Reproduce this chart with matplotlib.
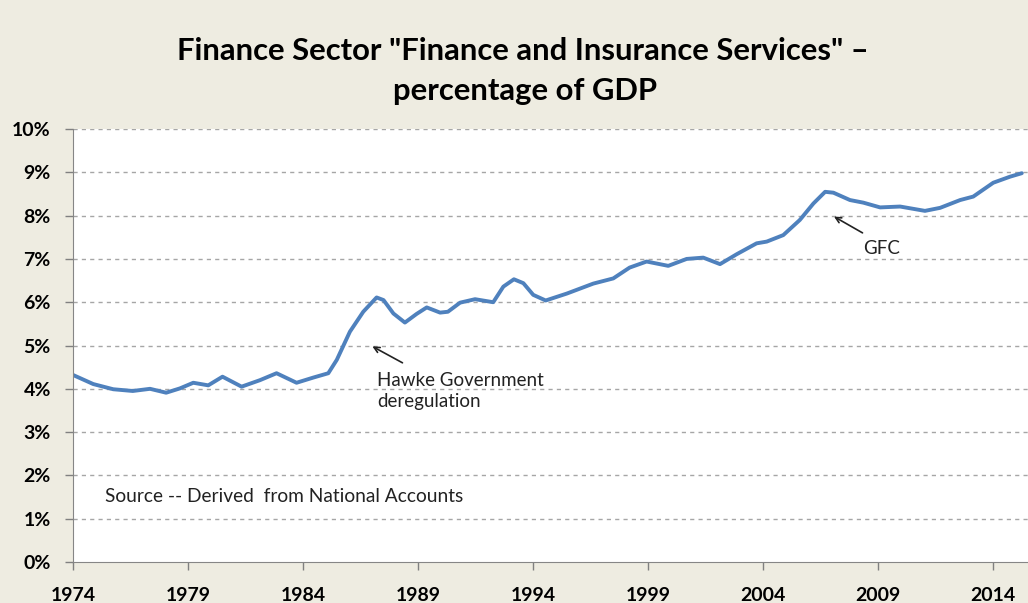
import numpy as np
import matplotlib.pyplot as plt

# values (year, % of GDP)
years = [1974.0, 1974.88, 1975.75, 1976.6, 1977.35, 1978.05, 1978.65, 1979.23,
         1979.88, 1980.5, 1981.33, 1982.13, 1982.85, 1983.72, 1984.45, 1985.1,
         1985.47, 1986.04, 1986.62, 1987.2, 1987.5, 1987.93, 1988.43, 1988.94,
         1989.38, 1989.96, 1990.3, 1990.83, 1991.48, 1992.27, 1992.71, 1993.17,
         1993.58, 1994.01, 1994.55, 1995.47, 1996.62, 1997.49, 1998.2, 1998.94,
         1999.88, 2000.68, 2001.4, 2002.13, 2002.86, 2003.72, 2004.16, 2004.88,
         2005.6, 2006.19, 2006.7, 2007.06, 2007.78, 2008.36, 2009.09, 2009.96,
         2011.04, 2011.7, 2012.57, 2013.14, 2014.01, 2014.74, 2015.25]
share = [4.32, 4.11, 3.99, 3.95, 4.00, 3.91, 4.01, 4.14,
         4.08, 4.28, 4.05, 4.20, 4.36, 4.14, 4.26, 4.36,
         4.67, 5.32, 5.78, 6.11, 6.05, 5.74, 5.53, 5.73,
         5.88, 5.76, 5.78, 5.99, 6.07, 6.00, 6.36, 6.53,
         6.44, 6.17, 6.04, 6.20, 6.43, 6.55, 6.80, 6.94,
         6.84, 7.00, 7.03, 6.88, 7.11, 7.36, 7.40, 7.55,
         7.90, 8.28, 8.55, 8.53, 8.36, 8.30, 8.19, 8.21,
         8.11, 8.18, 8.36, 8.44, 8.76, 8.90, 8.98]
xticks = [1974, 1979, 1984, 1989, 1994, 1999, 2004, 2009, 2014]
yticks = list(range(0, 11))

bg = '#EEECE1'
fnt = 'Lato'

fig = plt.figure(figsize=(10.28, 6.03), dpi=100, facecolor=bg)
ax = fig.add_axes([0.071, 0.068, 0.929, 0.718])
ax.set_facecolor('white')

ax.plot(years, share, color='#4F81BD', lw=2.8, solid_capstyle='round',
        solid_joinstyle='round')

ax.set_xlim(1974, 2015.52)
ax.set_ylim(0, 10)
ax.set_xticks(xticks)
ax.set_xticklabels([str(y) for y in xticks], fontsize=14, fontweight='bold', family=fnt)
ax.set_yticks(yticks)
ax.set_yticklabels([f'{y}%' for y in yticks], fontsize=14, fontweight='bold', family=fnt)
ax.tick_params(axis='both', colors='#808080', labelcolor='black', length=6, width=1)
ax.tick_params(axis='y', pad=10)
ax.tick_params(axis='x', pad=12)

for y in yticks[1:]:
    ax.axhline(y, color='#A6A6A6', lw=1, ls=(0, (3, 3)), zorder=0)

for s in ['top', 'right']:
    ax.spines[s].set_visible(False)
ax.spines['left'].set_color('#868686')
ax.spines['bottom'].set_color('#868686')

ax.annotate('', xy=(1986.91, 5.01), xytext=(1988.43, 4.57),
            arrowprops=dict(arrowstyle='->', color='#222222', lw=1.2))
ax.text(1987.22, 4.38, 'Hawke Government\nderegulation', fontsize=13.5, family=fnt,
        va='top', ha='left', color='#222222', linespacing=1.25)

ax.annotate('', xy=(2006.98, 8.01), xytext=(2008.43, 7.57),
            arrowprops=dict(arrowstyle='->', color='#222222', lw=1.2))
ax.text(2008.35, 7.24, 'GFC', fontsize=13.5, family=fnt, va='center', ha='left',
        color='#222222')

ax.text(1975.39, 1.52, 'Source -- Derived  from National Accounts', fontsize=13.8,
        family=fnt, va='center', ha='left', color='#222222')

fig.text(0.509, 1 - 60 / 603, 'Finance Sector "Finance and Insurance Services" \u2013',
         ha='center', va='baseline', fontsize=22.3, fontweight='bold', family=fnt)
fig.text(0.511, 1 - 100 / 603, 'percentage of GDP',
         ha='center', va='baseline', fontsize=22.3, fontweight='bold', family=fnt)

fig.savefig('out.png', dpi=100, facecolor=bg)
